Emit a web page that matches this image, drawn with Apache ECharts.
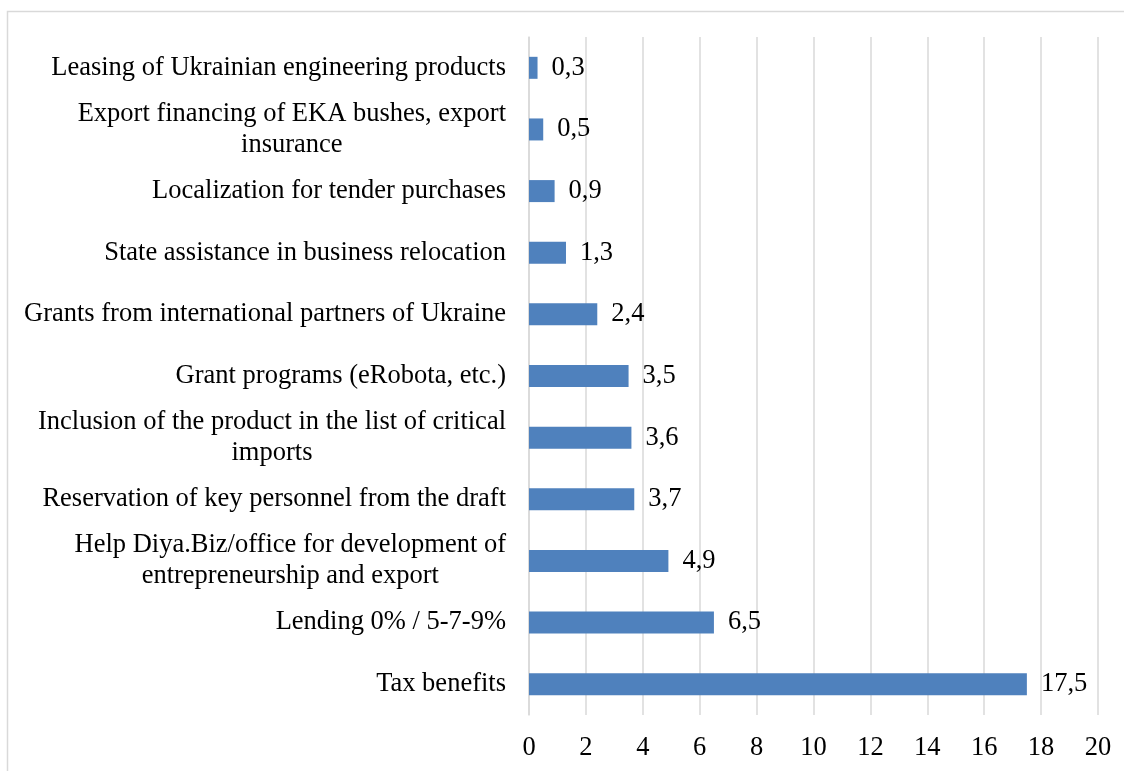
<!DOCTYPE html>
<html>
<head>
<meta charset="utf-8">
<script src="https://cdn.jsdelivr.net/npm/echarts@6/dist/echarts.min.js"></script>
<style>
html,body{margin:0;padding:0;background:#fff;}
#chart{width:1124px;height:771px;}
</style>
</head>
<body>
<div id="chart"></div>
<script>
const categories = [
  "Leasing of Ukrainian engineering products",
  "Export financing of EKA bushes, export\ninsurance",
  "Localization for tender purchases",
  "State assistance in business relocation",
  "Grants from international partners of Ukraine",
  "Grant programs (eRobota, etc.)",
  "Inclusion of the product in the list of critical\nimports",
  "Reservation of key personnel from the draft",
  "Help Diya.Biz/office for development of\nentrepreneurship and export",
  "Lending 0% / 5-7-9%",
  "Tax benefits"
];
const values = [0.3, 0.5, 0.9, 1.3, 2.4, 3.5, 3.6, 3.7, 4.9, 6.5, 17.5];
const xTicks = { min: 0, max: 20, interval: 2 };

const FONT = '"Liberation Serif", "Times New Roman", serif';
const FS = 26.5;
const chart = echarts.init(document.getElementById('chart'), null, {renderer: 'canvas'});
chart.setOption({
  animation: false,
  backgroundColor: '#fff',
  graphic: [{
    type: 'rect',
    shape: {x: 7.5, y: 11.5, width: 1130, height: 780},
    style: {fill: 'none', stroke: '#d9d9d9', lineWidth: 1.5},
    silent: true
  }],
  grid: {left: 529, right: 26, top: 37, bottom: 56, containLabel: false},
  xAxis: {
    type: 'value',
    min: xTicks.min, max: xTicks.max, interval: xTicks.interval,
    axisLine: {show: false},
    axisTick: {show: false},
    splitLine: {show: true, lineStyle: {color: '#d9d9d9', width: 1.5}},
    axisLabel: {
      color: '#000', fontFamily: FONT, fontSize: FS, margin: 20,
      formatter: v => String(v)
    }
  },
  yAxis: {
    type: 'category',
    data: categories,
    inverse: true,
    axisLine: {show: true, lineStyle: {color: '#d9d9d9', width: 1.5}},
    axisTick: {show: false},
    axisLabel: {
      color: '#000', fontFamily: FONT, fontSize: FS, margin: 23,
      lineHeight: 31,
      formatter: v => v.split('\n').map(s => '{c|' + s + '}').join('\n'),
      rich: {c: {align: 'center', fontFamily: FONT, fontSize: FS, color: '#000', lineHeight: 31}}
    }
  },
  series: [{
    type: 'bar',
    data: values,
    barWidth: 22,
    itemStyle: {color: '#4f81bd'},
    label: {
      show: true, position: 'right', distance: 14,
      color: '#000', fontFamily: FONT, fontSize: FS,
      formatter: p => String(p.value).replace('.', ',')
    }
  }]
});
</script>
</body>
</html>
